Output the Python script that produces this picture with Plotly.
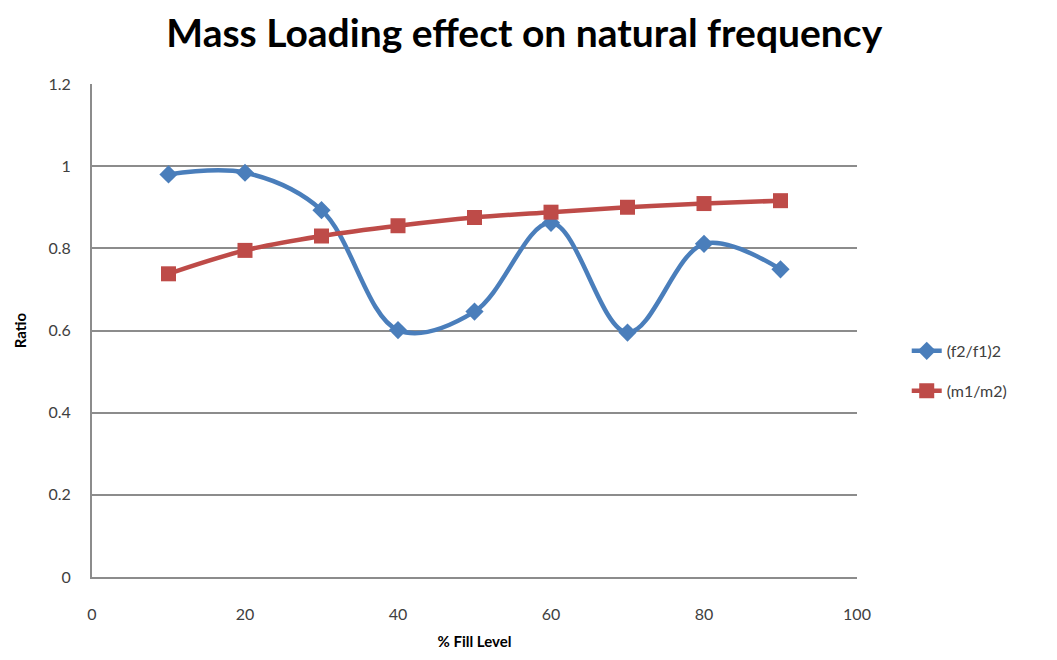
import plotly.graph_objects as go

# % fill level and the two ratios
fill_level = [10, 20, 30, 40, 50, 60, 70, 80, 90]
freq_ratio = [0.980, 0.984, 0.893, 0.601, 0.646, 0.862, 0.595, 0.811, 0.749]
mass_ratio = [0.738, 0.795, 0.830, 0.855, 0.875, 0.888, 0.900, 0.909, 0.916]

x_ticks = [0, 20, 40, 60, 80, 100]
y_ticks = [0, 0.2, 0.4, 0.6, 0.8, 1.0, 1.2]
y_labels = ["0", "0.2", "0.4", "0.6", "0.8", "1", "1.2"]

fig = go.Figure()
fig.add_trace(go.Scatter(
    x=fill_level, y=freq_ratio, name="(f2/f1)2", legendgroup="f",
    mode="lines+markers",
    line=dict(color="#4a7ebb", width=4.5, shape="spline", smoothing=1.0),
    marker=dict(symbol="diamond", size=14, color="#4a7ebb"),
))
fig.add_trace(go.Scatter(
    x=fill_level, y=mass_ratio, name="(m1/m2)", legendgroup="m",
    mode="lines+markers",
    line=dict(color="#be4b48", width=4.5, shape="spline", smoothing=1.0),
    marker=dict(symbol="square", size=15, color="#be4b48"),
))

fig.update_layout(
    width=1057, height=660,
    margin=dict(l=92, r=200, t=84, b=80),
    paper_bgcolor="white", plot_bgcolor="white",
    font=dict(family="Lato, Open Sans, sans-serif", color="#404040", size=16),
    title=dict(text="<b>Mass Loading effect on natural frequency</b>",
               x=0.496, xanchor="center", y=0.95, yanchor="middle",
               font=dict(size=39, color="#000000", family="Lato, Open Sans, sans-serif")),
    showlegend=True,
    legend=dict(x=1.065, y=0.418, xanchor="left", yanchor="middle",
                font=dict(size=16, color="#404040"), traceorder="grouped",
                tracegroupgap=16, itemwidth=30, bgcolor="rgba(0,0,0,0)"),
    xaxis=dict(range=[0, 100], tickvals=x_ticks, showgrid=False,
               showline=True, linecolor="#8c8c8c", linewidth=2,
               ticks="outside", ticklen=22, tickcolor="rgba(0,0,0,0)",
               zeroline=False,
               title=dict(text="<b>% Fill Level</b>", standoff=14,
                          font=dict(size=15, color="#000000"))),
    yaxis=dict(range=[0, 1.2], tickvals=y_ticks, ticktext=y_labels,
               showgrid=True, gridcolor="#8c8c8c", gridwidth=1.5,
               showline=True, linecolor="#8c8c8c", linewidth=2,
               ticks="", zeroline=False, ticklabelstandoff=16,
               title=dict(text="<b>Ratio</b>", standoff=18,
                          font=dict(size=15, color="#000000"))),
)

fig.write_html("out.html")
